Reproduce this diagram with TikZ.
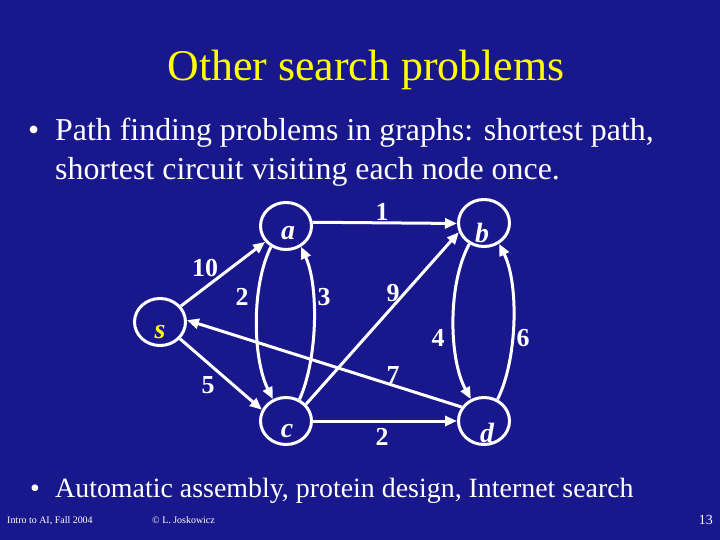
\documentclass[tikz,border=0pt]{standalone}
\usepackage{fontspec}
\setmainfont{Liberation Serif}
\usetikzlibrary{arrows.meta,shapes.geometric}
\definecolor{bg}{RGB}{24,24,140}
\definecolor{ttl}{RGB}{255,255,0}
\begin{document}
\begin{tikzpicture}[x=1bp,y=-1bp,
  vtx/.style={ellipse, draw=white, line width=3bp, minimum width=51bp, minimum height=47bp, inner sep=0pt},
  vlbl/.style={text=white, font=\fontsize{28}{28}\selectfont\bfseries\itshape, anchor=base, inner sep=0pt},
  wlbl/.style={text=white, font=\fontsize{26}{26}\selectfont\bfseries, inner sep=0pt},
  edge/.style={draw=white, line width=3bp, -{Triangle[length=12bp,width=10bp]}},
  body/.style={text=white, font=\fontsize{32}{32}\selectfont, anchor=base west, inner sep=0pt},
  bodysm/.style={text=white, font=\fontsize{28}{28}\selectfont, anchor=base west, inner sep=0pt},
  foot/.style={text=white, font=\fontsize{10}{10}\selectfont, anchor=base west, inner sep=0pt}]
\fill[bg] (0,0) rectangle (720,540);
\useasboundingbox (0,0) rectangle (720,540);

% title
\node[text=ttl, font=\fontsize{44}{44}\selectfont, anchor=base, inner sep=0pt] (title) at (366,81) {Other search problems};

% bullets
\node[body] (b1) at (28,141) {\textbullet};
\node[body] (t1) at (55,141) {Path finding problems in graphs: shortest path,};
\node[body] (t2) at (55,180) {shortest circuit visiting each node once.};
\node[bodysm] (b2) at (30,497) {\textbullet};
\node[bodysm] (t3) at (55,497) {Automatic assembly, protein design, Internet search};

% footer
\node[foot] (f1) at (7,523) {Intro to AI, Fall 2004};
\node[foot] (f2) at (152,523) {\textcopyright{} L. Joskowicz};
\node[text=white, font=\fontsize{14}{14}\selectfont, anchor=base east, inner sep=0pt] (pg) at (713,524) {13};

% vertices
\node[vtx] (a) at (286,226) {};
\node[vtx] (b) at (484,223) {};
\node[vtx] (s) at (160,322) {};
\node[vtx] (c) at (286,421) {};
\node[vtx] (d) at (484,421) {};

\node[vlbl] (la) at (288,240) {a};
\node[vlbl] (lb) at (482,243) {b};
\node[vlbl, text=ttl] (ls) at (160,338) {s};
\node[vlbl] (lc) at (287,437) {c};
\node[vlbl] (ld) at (487,442) {d};

% edges
\draw[edge] (s) -- (a);
\draw[edge] (a.8) -- (b.181);
\draw[edge] (a.234) .. controls +(-20,40) and +(-20,-40) .. (c.121);
\draw[edge] (c.58) .. controls +(18,-40) and +(18,40) .. (a.306);
\draw[edge] (c.40) -- (b.200);
\draw[edge] (s.320) -- (c.155);
\draw[edge] (d.148) -- (s.4);
\draw[edge] (c) -- (d);
\draw[edge] (b.235) .. controls +(-22,40) and +(-22,-40) .. (d.121);
\draw[edge] (d.58) .. controls +(20,-40) and +(20,40) .. (b.306);

% weights
\node[wlbl] (w10) at (205,268) {10};
\node[wlbl] (w1) at (382,212) {1};
\node[wlbl] (w2a) at (242,297) {2};
\node[wlbl] (w3) at (324,297) {3};
\node[wlbl] (w9) at (393,293) {9};
\node[wlbl] (w4) at (438,338) {4};
\node[wlbl] (w6) at (523,338) {6};
\node[wlbl] (w7) at (393,375) {7};
\node[wlbl] (w5) at (208,385) {5};
\node[wlbl] (w2b) at (382,437) {2};
\end{tikzpicture}
\end{document}
